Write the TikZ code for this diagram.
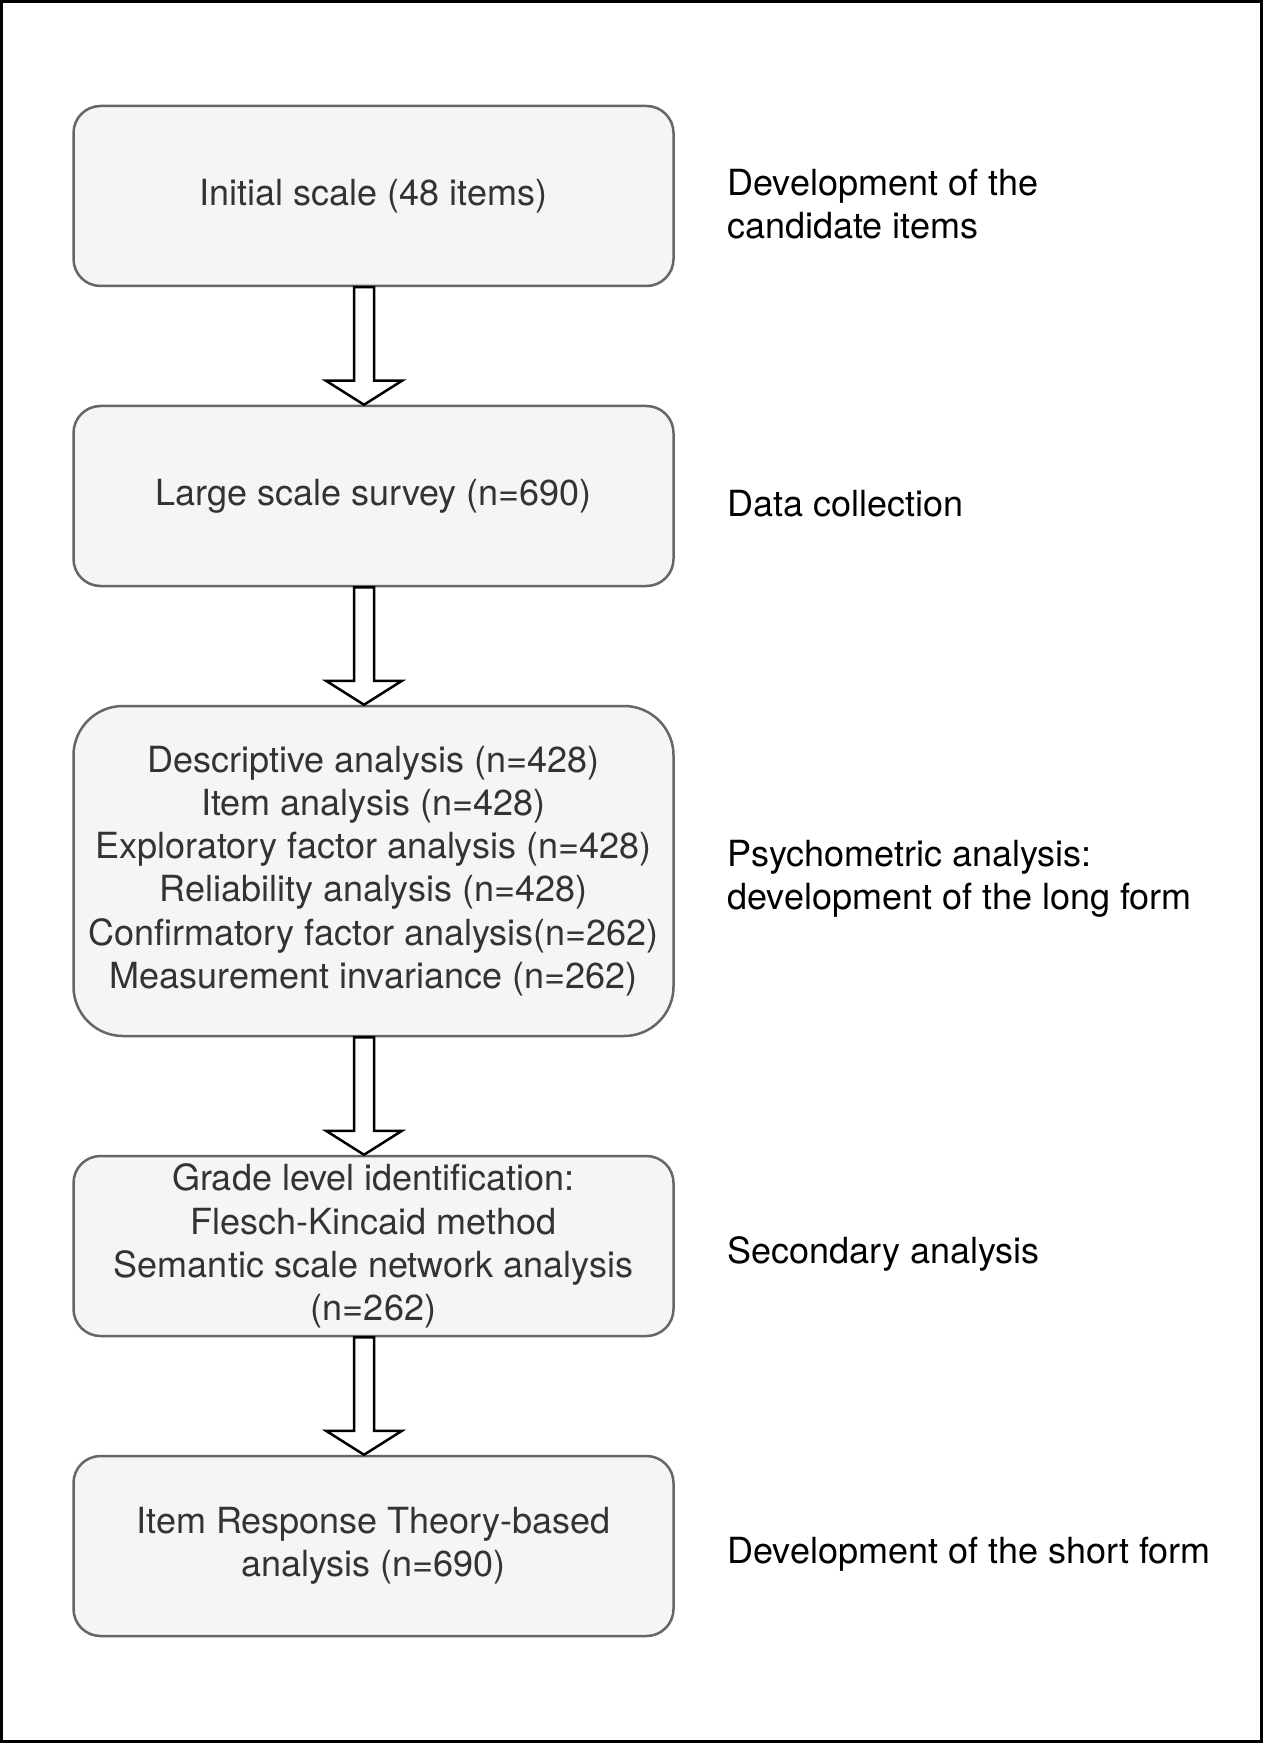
\documentclass[tikz,border=0pt]{standalone}
\usepackage{fontspec}
\setmainfont{TeX Gyre Heros}
\usetikzlibrary{calc}
\definecolor{boxfill}{HTML}{F5F5F5}
\definecolor{boxline}{HTML}{666666}
\definecolor{boxtext}{HTML}{333333}
\newcommand\blkarrow[2]{%
  \draw[blk] ([xshift=-9.75pt]#1.south) -- ([xshift=-9.75pt,yshift=12pt]#2.north)
    -- ([xshift=-23.75pt,yshift=12pt]#2.north) -- ([xshift=-4.75pt]#2.north)
    -- ([xshift=14.25pt,yshift=12pt]#2.north) -- ([xshift=0.25pt,yshift=12pt]#2.north)
    -- ([xshift=0.25pt]#1.south) -- cycle;}
\begin{document}
\begin{tikzpicture}[x=0.5pt,y=-0.5pt,
  stage/.style={draw=boxline, fill=boxfill, line width=1.25pt, text=boxtext,
    rounded corners=13.5pt, minimum width=300pt, minimum height=90pt,
    align=center, inner sep=0pt, font=\fontsize{18}{21.6}\selectfont},
  note/.style={anchor=west, align=left, inner sep=0pt,
    font=\fontsize{18}{21.6}\selectfont, text=black},
  blk/.style={draw=black, fill=white, line width=1.25pt, line join=miter}]
\useasboundingbox (0,0) rectangle (1263,1743);
\fill[white] (0,0) rectangle (1263,1743);
\draw[line width=1.5pt] (1.5,1.5) rectangle (1261.5,1741.5);

\node[stage] (b1) at (373.5,196) {Initial scale (48 items)};
\node[stage] (b2) at (373.5,496) {Large scale survey (n=690)};
\node[stage, minimum height=165pt, rounded corners=24.75pt] (b3) at (373.5,871)
  {Descriptive analysis (n=428)\\Item analysis (n=428)\\Exploratory factor analysis (n=428)\\Reliability analysis (n=428)\\Confirmatory factor analysis(n=262)\\Measurement invariance (n=262)};
\node[stage] (b4) at (373.5,1246)
  {Grade level identification:\\Flesch-Kincaid method\\Semantic scale network analysis\\(n=262)};
\node[stage] (b5) at (373.5,1546)
  {Item Response Theory-based\\analysis (n=690)};

\blkarrow{b1}{b2}
\blkarrow{b2}{b3}
\blkarrow{b3}{b4}
\blkarrow{b4}{b5}

\node[note] (l1) at (727,204) {Development of the\\candidate items};
\node[note] (l2) at (727,504) {Data collection};
\node[note] (l3) at (727,879) {Psychometric analysis:\\development of the long form};
\node[note] (l4) at (727,1254) {Secondary analysis};
\node[note] (l5) at (727,1554) {Development of the short form};
\end{tikzpicture}
\end{document}
